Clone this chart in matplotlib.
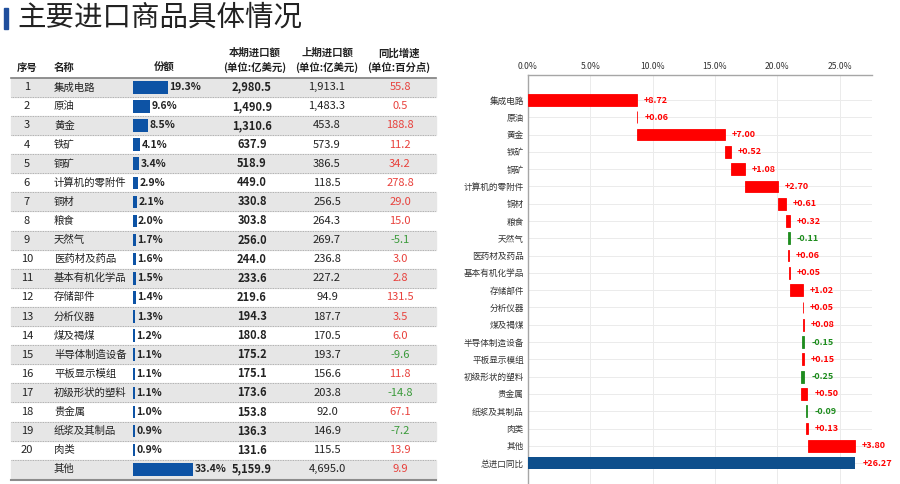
import numpy as np
import matplotlib
matplotlib.use('Agg')
import matplotlib.pyplot as plt
from matplotlib.patches import Rectangle

plt.rcParams['font.family'] = ['Noto Sans CJK SC', 'DejaVu Sans']

# table data
names = ['集成电路', '原油', '黄金', '铁矿', '铜矿', '计算机的零附件', '铜材', '粮食', '天然气',
         '医药材及药品', '基本有机化学品', '存储部件', '分析仪器', '煤及褐煤', '半导体制造设备',
         '平板显示模组', '初级形状的塑料', '贵金属', '纸浆及其制品', '肉类', '其他']
shares = [19.3, 9.6, 8.5, 4.1, 3.4, 2.9, 2.1, 2.0, 1.7, 1.6, 1.5, 1.4, 1.3, 1.2, 1.1, 1.1, 1.1,
          1.0, 0.9, 0.9, 33.4]
current = [2980.5, 1490.9, 1310.6, 637.9, 518.9, 449.0, 330.8, 303.8, 256.0, 244.0, 233.6, 219.6,
           194.3, 180.8, 175.2, 175.1, 173.6, 153.8, 136.3, 131.6, 5159.9]
previous = [1913.1, 1483.3, 453.8, 573.9, 386.5, 118.5, 256.5, 264.3, 269.7, 236.8, 227.2, 94.9,
            187.7, 170.5, 193.7, 156.6, 203.8, 92.0, 146.9, 115.5, 4695.0]
growth = [55.8, 0.5, 188.8, 11.2, 34.2, 278.8, 29.0, 15.0, -5.1, 3.0, 2.8, 131.5, 3.5, 6.0, -9.6,
          11.8, -14.8, 67.1, -7.2, 13.9, 9.9]

# waterfall data (contribution to growth, percentage points)
wf_labels = names + ['总进口同比']
contrib = [8.72, 0.06, 7.00, 0.52, 1.08, 2.70, 0.61, 0.32, -0.11, 0.06, 0.05, 1.02, 0.05, 0.08,
           -0.15, 0.15, -0.25, 0.50, -0.09, 0.13, 3.80]
total = 26.27

W, H = 900, 484
fig = plt.figure(figsize=(W / 100, H / 100), dpi=100)
fig.patch.set_facecolor('white')

# full-figure pixel axes for title and table
tab = fig.add_axes([0, 0, 1, 1])
tab.set_xlim(0, W)
tab.set_ylim(H, 0)
tab.axis('off')

tab.add_patch(Rectangle((4, 8), 3.5, 21, color='#1f4e9c'))
tab.text(17, 18, '主要进口商品具体情况', fontsize=20.5, color='#222222', va='center', ha='left')

txt = '#222222'
red_t = '#e8413c'
green_t = '#3a9a3a'
row0, rh = 87.3, 19.1
x_l, x_r = 11, 436
fs = 7.5
fn = 8

# header
hy1, hy2 = 53, 67.5
tab.text(27, hy2, '序号', fontsize=fs, fontweight='bold', ha='center', va='center', color=txt)
tab.text(54, hy2, '名称', fontsize=fs, fontweight='bold', ha='left', va='center', color=txt)
tab.text(164, hy2, '份额', fontsize=fs, fontweight='bold', ha='center', va='center', color=txt)
for xc, l1, l2 in [(255, '本期进口额', '(单位:亿美元)'), (327, '上期进口额', '(单位:亿美元)'),
                   (399, '同比增速', '(单位:百分点)')]:
    tab.text(xc, hy1, l1, fontsize=fs, fontweight='bold', ha='center', va='center', color=txt)
    tab.text(xc, hy2, l2, fontsize=fs, fontweight='bold', ha='center', va='center', color=txt)
tab.plot([x_l, x_r], [row0 - rh / 2, row0 - rh / 2], color='#7f7f7f', lw=1.2)

n = len(names)
for i in range(n):
    y = row0 + i * rh
    if i % 2 == 0:
        tab.add_patch(Rectangle((x_l, y - rh / 2), x_r - x_l, rh, color='#e6e6e6', zorder=0))
    if i < n - 1:
        tab.plot([x_l, x_r], [y + rh / 2, y + rh / 2], color='#a0a0a0', lw=0.6, ls=(0, (1, 1)))
        tab.text(27, y, str(i + 1), fontsize=fn, ha='center', va='center', color=txt)
    tab.text(54, y, names[i], fontsize=fs, ha='left', va='center', color=txt)
    tab.text(252, y, f'{current[i]:,.1f}', fontsize=fn, fontweight='bold', ha='center',
             va='center', color=txt)
    tab.text(327, y, f'{previous[i]:,.1f}', fontsize=fn, ha='center', va='center', color=txt)
    tab.text(400, y, f'{growth[i]:.1f}', fontsize=fn, ha='center', va='center',
             color=red_t if growth[i] >= 0 else green_t)
yb = row0 + (n - 1) * rh + rh / 2 + 1
tab.plot([x_l, x_r], [yb, yb], color='#8c8c8c', lw=1.5)

# share bars
sh = fig.add_axes([133 / W, 0, 100 / W, 1])
sh.set_xlim(0, 100 / 1.805)
sh.set_ylim(H, 0)
sh.axis('off')
sh.patch.set_alpha(0)
row_y = row0 + np.arange(n) * rh
sh.barh(row_y, shares, height=12.5, color='#0d53a5', left=0)
for yy, s in zip(row_y, shares):
    sh.annotate(f'{s:.1f}%', (s, yy), xytext=(1, 0), textcoords='offset points', fontsize=7.5,
                fontweight='bold', ha='left', va='center', color=txt)

# waterfall chart
ax = fig.add_axes([528 / W, 0, (871.7 - 528) / W, 1 - 75 / H])
pos = np.arange(len(wf_labels))
cum = np.concatenate([[0], np.cumsum(contrib)[:-1]])
red, green, blue = '#ff0000', '#1e8c1e', '#0e4f8c'
cols = [red if c >= 0 else green for c in contrib]
ax.barh(pos[:-1], contrib, left=cum, height=0.68, color=cols, edgecolor=cols, lw=0.6, zorder=3)
ax.barh(pos[-1], total, left=0, height=0.68, color=blue, zorder=3)
for p, c, l in zip(pos[:-1], contrib, cum):
    ax.annotate(f'{c:+.2f}', (max(l, l + c), p), xytext=(5, 0), textcoords='offset points',
                fontsize=6.5, fontweight='bold', va='center', ha='left',
                color=red if c >= 0 else green)
ax.annotate(f'+{total:.2f}', (total, pos[-1]), xytext=(5, 0), textcoords='offset points',
            fontsize=6.5, fontweight='bold', va='center', ha='left', color=red)

ax.set_xlim(0, 27.58)
ax.set_ylim(22.21, -1.446)
ax.set_xticks([0, 5, 10, 15, 20, 25])
ax.set_xticklabels([f'{v:.1f}%' for v in [0, 5, 10, 15, 20, 25]])
ax.xaxis.tick_top()
ax.set_yticks(pos)
ax.set_yticklabels(wf_labels)
ax.tick_params(axis='both', length=0, labelsize=6.2, colors='#333333', pad=3)
ax.grid(True, color='#ebebeb', lw=0.7, zorder=0)
ax.set_axisbelow(True)
for s in ['right', 'bottom']:
    ax.spines[s].set_visible(False)
for s in ['left', 'top']:
    ax.spines[s].set_color('#a6a6a6')
    ax.spines[s].set_linewidth(1)

fig.savefig('out.png', dpi=100)
